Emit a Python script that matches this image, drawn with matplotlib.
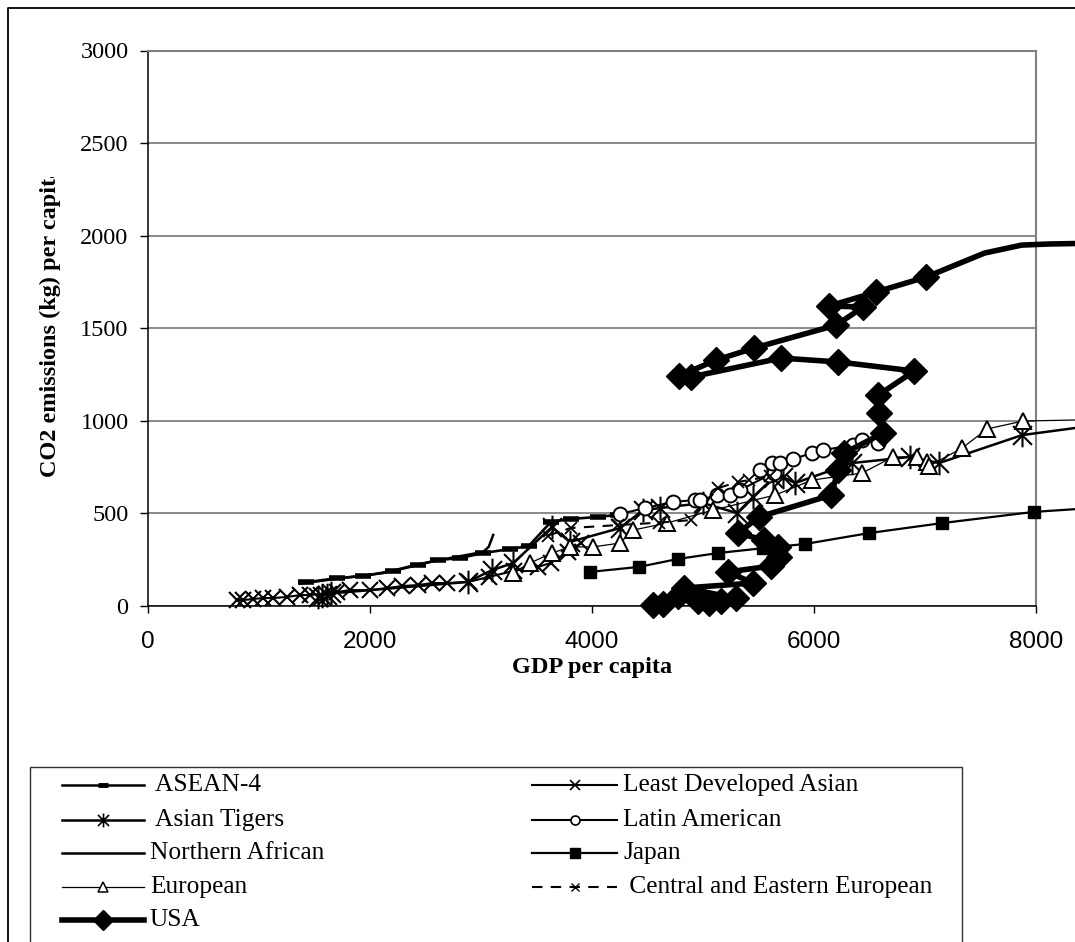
import matplotlib
matplotlib.use('Agg')
import matplotlib.pyplot as plt
from matplotlib.path import Path
from matplotlib.patches import Rectangle
from matplotlib.transforms import Bbox, TransformedBbox

# ---------------- data ----------------
asean_x = [1420, 1700, 1940, 2210, 2430, 2610, 2810, 3020, 3265, 3430, 3630, 3810, 4050, 4230]
asean_y = [128, 150, 162, 190, 221, 248, 259, 286, 308, 324, 454, 470, 481, 492]

lda_x = [803, 857, 948, 1038, 1128, 1254, 1372, 1462, 1706, 1823, 2004, 2157, 2292, 2428,
         2563, 2698, 2888, 3069, 3300, 3511, 3628, 3782, 3899]
lda_y = [32, 32, 38, 43, 43, 49, 59, 59, 76, 86, 86, 97, 108, 113,
         124, 124, 130, 157, 190, 211, 232, 292, 340]

tigers_x = [1530, 1570, 1610, 1650, 2880, 3100, 3290, 3640, 3800, 4253, 4460, 4613, 5000,
            5307, 5451, 5631, 5721, 5829, 6343, 6866, 7127, 7875, 8400, 8700]
tigers_y = [50, 56, 62, 68, 130, 194, 232, 427, 346, 421, 518, 529, 556,
            502, 589, 691, 697, 664, 772, 805, 772, 923, 965, 985]
tigers_tail = 2

latin_x = [4253, 4478, 4730, 4928, 4973, 5127, 5244, 5334, 5595, 5640, 5514, 5622, 5694,
           5811, 5982, 6082, 6352, 6433, 6577]
latin_y = [497, 529, 562, 572, 572, 599, 599, 626, 707, 718, 734, 772, 772,
           794, 826, 842, 869, 896, 880]

nafrica_x = [1370, 1670, 2120, 2430, 2720, 3020, 3070, 3110]
nafrica_y = [120, 145, 178, 225, 259, 292, 320, 384]

japan_x = [3980, 4422, 4774, 5135, 5540, 5920, 6498, 7157, 7978, 8400, 8700]
japan_y = [184, 211, 254, 286, 312, 335, 394, 448, 508, 525, 540]
japan_tail = 2

europe_x = [3289, 3442, 3640, 3802, 4009, 4253, 4370, 4676, 5090, 5649, 5982, 6433, 6712,
            6929, 7019, 7037, 7334, 7559, 7884, 8400, 8700]
europe_y = [180, 232, 286, 319, 319, 340, 410, 448, 518, 599, 680, 718, 805,
            805, 778, 756, 853, 956, 999, 1005, 1010]
europe_tail = 2

cee_x = [3600, 3808, 4230, 4600, 4892, 5135, 5316, 5415, 5600]
cee_y = [380, 421, 437, 450, 464, 637, 670, 680, 700]

usa_x = [4549, 4639, 4774, 4955, 5054, 5162, 5298, 4828, 5451, 5225, 5614, 5686, 5677, 5550,
         5316, 5505, 6155, 6218, 6272, 6624, 6588, 6579, 6904, 6218, 5704, 4892, 4783, 5117,
         5460, 6200, 6444, 6137, 6561, 7012, 7536, 7870, 8113, 8592]
usa_y = [5, 11, 54, 27, 16, 27, 43, 97, 124, 184, 216, 265, 319, 356,
         394, 481, 599, 734, 826, 934, 1042, 1139, 1269, 1318, 1339, 1237, 1242, 1328,
         1393, 1517, 1615, 1620, 1696, 1777, 1906, 1949, 1955, 1960]
usa_tail = 4

x_ticks = [0, 2000, 4000, 6000, 8000]
y_ticks = [0, 500, 1000, 1500, 2000, 2500, 3000]

labels = [" ASEAN-4", "Least Developed Asian", " Asian Tigers", "Latin American",
          "Northern African", "Japan", "European", " Central and Eastern European", "USA"]

# ---------------- style ----------------
SERIF = 'Liberation Serif'
SANS = 'Liberation Sans'
W, H = 1075, 942
fig = plt.figure(figsize=(W / 100, H / 100), dpi=100)
ax = fig.add_axes([148 / W, 1 - 606 / H, (1036 - 148) / W, (606 - 50.5) / H])

star = Path([(-1, -1), (1, 1), (-1, 1), (1, -1), (0, -1.25), (0, 1.25)],
            [Path.MOVETO, Path.LINETO, Path.MOVETO, Path.LINETO, Path.MOVETO, Path.LINETO])

def mk(n, tail=0):
    return list(range(n - tail))

k = dict(color='black', clip_on=False)
ax.plot(nafrica_x, nafrica_y, lw=1.8, zorder=3, **k)
ax.plot(asean_x, asean_y, lw=1.9, marker='_', ms=12, mew=4, zorder=3, **k)
ax.plot(lda_x, lda_y, lw=1.5, marker='x', ms=12, mew=1.5, zorder=3, **k)
ax.plot(tigers_x, tigers_y, lw=1.8, marker=star, ms=17, mew=1.5, mfc='none',
        markevery=mk(len(tigers_x), tigers_tail), zorder=3, **k)
ax.plot(europe_x, europe_y, lw=0.9, marker='^', ms=11.5, mew=1.4, mfc='white',
        markevery=mk(len(europe_x), europe_tail), zorder=3, **k)
ax.plot(latin_x, latin_y, lw=1.5, marker='o', ms=10, mew=1.4, mfc='white', zorder=3, **k)
ax.plot(cee_x, cee_y, lw=1.5, ls=(0, (5, 4)), marker='x', ms=9, mew=1.3, zorder=3, **k)
ax.plot(japan_x, japan_y, lw=1.6, marker='s', ms=9, markevery=mk(len(japan_x), japan_tail),
        zorder=4, **k)
ax.plot(usa_x, usa_y, lw=4, marker='D', ms=13, markevery=mk(len(usa_x), usa_tail),
        zorder=5, **k)

ax.set_xlim(0, 8000)
ax.set_ylim(0, 3000)
ax.set_xticks(x_ticks)
ax.set_yticks(y_ticks)
ax.set_xticklabels([str(v) for v in x_ticks], fontfamily=SANS, fontsize=17.5)
ax.set_yticklabels([str(v) for v in y_ticks], fontfamily=SERIF, fontsize=17.5)
ax.tick_params(axis='x', direction='out', length=5, width=1, pad=13)
ax.tick_params(axis='y', direction='out', length=6, width=1, pad=8)
ax.yaxis.grid(True, color='#808080', lw=1.3)
ax.set_axisbelow(True)
for s in ('top', 'right'):
    ax.spines[s].set_color('#808080')
    ax.spines[s].set_linewidth(1.5)
for s in ('left', 'bottom'):
    ax.spines[s].set_color('black')
    ax.spines[s].set_linewidth(1.1)

# overlay in pixel coordinates for frame, titles and legend
lax = fig.add_axes([0, 0, 1, 1], zorder=-1)
lax.set_axis_off()
lax.set_xlim(0, W)
lax.set_ylim(H, 0)
lax.plot([8, 8, W + 5], [H + 5, 8, 8], color='black', lw=1.3, clip_on=False)

lax.text(592, 668, "GDP per capita", fontfamily=SERIF, fontweight='bold', fontsize=17.5,
         ha='center', va='center')
yl = lax.text(50, 477, "CO2 emissions (kg) per capita", fontfamily=SERIF, fontweight='bold',
              fontsize=17.5, rotation=90, ha='center', va='bottom')
yl.set_clip_box(TransformedBbox(Bbox.from_extents(0, 0, 1, (H - 177) / H), fig.transFigure))
yl.set_clip_on(True)

# legend
lax.add_patch(Rectangle((30, 767), 932, 200, fill=False, ec='#303030', lw=1.0, clip_on=True))
leg_styles = [
    dict(lw=1.8, marker='_', ms=7, mew=3.5),
    dict(lw=1.5, marker='x', ms=7, mew=1.2),
    dict(lw=1.8, marker=star, ms=10, mew=1.2, mfc='none'),
    dict(lw=1.5, marker='o', ms=6.5, mew=1.2, mfc='white'),
    dict(lw=1.8),
    dict(lw=1.6, marker='s', ms=7.5),
    dict(lw=0.9, marker='^', ms=7, mew=1.1, mfc='white'),
    dict(lw=1.5, ls=(0, (5, 4)), marker='x', ms=5.5, mew=1.0),
    dict(lw=4, marker='D', ms=10),
]
rows = [785, 820, 853, 887, 920]
line_keys = ('lw', 'ls')
for i, (lab, st) in enumerate(zip(labels, leg_styles)):
    col, row = i % 2, i // 2
    y = rows[row]
    x0, x1, xt = (62, 144, 150) if col == 0 else (532, 617, 623)
    lax.plot([x0, x1], [y, y], color='black', **{kk: vv for kk, vv in st.items() if kk in line_keys})
    if 'marker' in st:
        lax.plot([(x0 + x1) / 2], [y], color='black', ls='none', marker=st['marker'], ms=st['ms'],
                 mew=st.get('mew', 1), mfc=st.get('mfc', 'black'))
    lax.text(xt, y, lab, fontfamily=SERIF, fontsize=18.3, ha='left', va='center')

fig.savefig('out.png', dpi=100)
